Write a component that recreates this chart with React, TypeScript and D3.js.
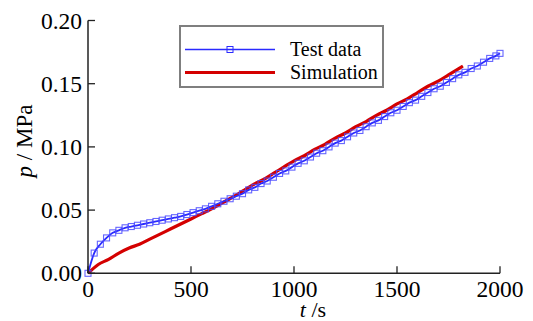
import React from "react";
import * as d3 from "d3";

const testTimes = [
  0, 30, 60, 90, 120, 150, 180, 210, 240, 270, 300, 330, 360, 390, 420, 450, 480, 510, 540, 570,
  600, 630, 660, 690, 720, 750, 780, 810, 840, 870, 900, 930, 960, 990, 1020, 1050, 1080, 1110,
  1140, 1170, 1200, 1230, 1260, 1290, 1320, 1350, 1380, 1410, 1440, 1470, 1500, 1530, 1560, 1590,
  1620, 1650, 1680, 1710, 1740, 1770, 1800, 1830, 1860, 1890, 1920, 1950, 1980, 2000,
];
const testPressure = [
  0.0, 0.016, 0.023, 0.028, 0.032, 0.034, 0.036, 0.037, 0.038, 0.039, 0.04, 0.041, 0.042, 0.043,
  0.044, 0.045, 0.0465, 0.048, 0.0495, 0.051, 0.053, 0.055, 0.057, 0.059, 0.061, 0.063, 0.066,
  0.068, 0.071, 0.073, 0.076, 0.079, 0.081, 0.084, 0.087, 0.089, 0.092, 0.095, 0.097, 0.1, 0.103,
  0.105, 0.108, 0.111, 0.113, 0.116, 0.119, 0.121, 0.124, 0.127, 0.129, 0.132, 0.135, 0.137, 0.14,
  0.143, 0.146, 0.148, 0.151, 0.154, 0.157, 0.159, 0.162, 0.164, 0.167, 0.17, 0.172, 0.174,
];

const simTimes = [
  0, 50, 100, 150, 200, 250, 300, 350, 400, 450, 500, 550, 600, 650, 700, 750, 800, 850, 900, 950,
  1000, 1050, 1100, 1150, 1200, 1250, 1300, 1350, 1400, 1450, 1500, 1550, 1600, 1650, 1700, 1750,
  1800, 1820,
];
const simPressure = [
  0.0, 0.007, 0.011, 0.016, 0.02, 0.023, 0.027, 0.031, 0.035, 0.039, 0.043, 0.047, 0.051, 0.0555,
  0.06, 0.065, 0.07, 0.074, 0.079, 0.084, 0.089, 0.093, 0.098, 0.102, 0.107, 0.111, 0.116, 0.12,
  0.125, 0.129, 0.134, 0.138, 0.143, 0.148, 0.152, 0.157, 0.162, 0.164,
];

const xTicks = [0, 500, 1000, 1500, 2000];
const yTicks = [0, 0.05, 0.1, 0.15, 0.2];
const legendLabels = ["Test data", "Simulation"];

const W = 533;
const H = 321;
const serif = { fontFamily: '"Liberation Serif", "Times New Roman", Times, serif' };

export default function App() {
  const x = d3.scaleLinear().domain([0, 2000]).range([88, 500]);
  const y = d3.scaleLinear().domain([0, 0.2]).range([273.3, 20.5]);

  const testData = testTimes.map((t, i) => [t, testPressure[i]] as [number, number]);
  const simData = simTimes.map((t, i) => [t, simPressure[i]] as [number, number]);

  const line = d3
    .line<[number, number]>()
    .x((d) => x(d[0]))
    .y((d) => y(d[1]))
    .curve(d3.curveMonotoneX);

  const blue = "#2a2aff";
  const red = "#d40000";
  const axisColor = "#222";
  const ms = 6;

  return (
    <svg width={W} height={H} style={{ position: "absolute", left: 0, top: 0 }}>
      <rect x={0} y={0} width={W} height={H} fill="#fff" />
      <path d={line(simData) || ""} fill="none" stroke={red} strokeWidth={3.2} />
      <path d={line(testData) || ""} fill="none" stroke={blue} strokeWidth={1.8} />
      {testData.map((d, i) => (
        <rect
          key={i}
          x={x(d[0]) - ms / 2}
          y={y(d[1]) - ms / 2}
          width={ms}
          height={ms}
          fill="none"
          stroke="#4a4aff"
          strokeOpacity={0.85}
          strokeWidth={1.1}
        />
      ))}
      <line x1={88} x2={88} y1={y(0.2)} y2={y(0)} stroke={axisColor} strokeWidth={1.5} />
      <line x1={88} x2={x(2000)} y1={y(0)} y2={y(0)} stroke={axisColor} strokeWidth={1.5} />
      {yTicks.map((t) => (
        <g key={"y" + t}>
          <line x1={88} x2={95} y1={y(t)} y2={y(t)} stroke={axisColor} strokeWidth={1.3} />
          <text x={82} y={y(t) + 8} textAnchor="end" style={serif} fontSize={23.5} fill="#000">
            {t.toFixed(2)}
          </text>
        </g>
      ))}
      {xTicks.map((t) => (
        <g key={"x" + t}>
          <line x1={x(t)} x2={x(t)} y1={y(0)} y2={y(0) - 7} stroke={axisColor} strokeWidth={1.3} />
          <text x={x(t)} y={297} textAnchor="middle" style={serif} fontSize={23.5} fill="#000">
            {t}
          </text>
        </g>
      ))}
      <text x={313} y={317} textAnchor="middle" style={serif} fontSize={22} fill="#000">
        <tspan fontStyle="italic">t</tspan>
        <tspan> /s</tspan>
      </text>
      <text
        transform="translate(32,141) rotate(-90)"
        textAnchor="middle"
        style={serif}
        fontSize={23}
        fill="#000"
      >
        <tspan fontStyle="italic">p</tspan>
        <tspan> / MPa</tspan>
      </text>
      <rect x={180} y={26} width={203} height={61} fill="#fff" stroke="#7f7f7f" strokeWidth={2} />
      <line x1={185} x2={275} y1={49.5} y2={49.5} stroke={blue} strokeWidth={1.5} />
      <rect x={227} y={46.5} width={6} height={6} fill="none" stroke={blue} strokeWidth={1} />
      <line x1={185} x2={275} y1={72.5} y2={72.5} stroke={red} strokeWidth={3.2} />
      <text x={290} y={56} style={serif} fontSize={20} fill="#000">
        {legendLabels[0]}
      </text>
      <text x={290} y={79} style={serif} fontSize={20} fill="#000">
        {legendLabels[1]}
      </text>
    </svg>
  );
}
